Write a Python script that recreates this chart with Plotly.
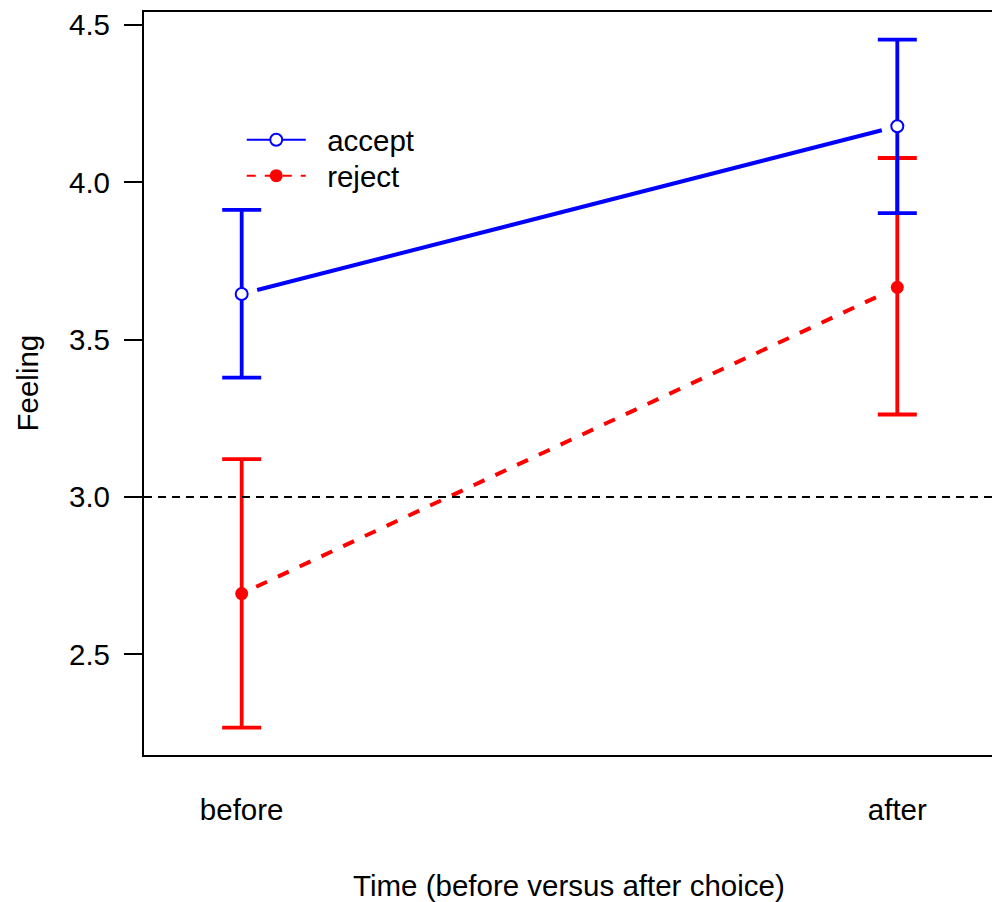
import math
import plotly.graph_objects as go

# ---- data ----
times = ["before", "after"]
time_pos = [1, 2]
accept_mean = [3.645, 4.178]
accept_low = [3.379, 3.902]
accept_high = [3.912, 4.453]
reject_mean = [2.693, 3.666]
reject_low = [2.267, 3.262]
reject_high = [3.120, 4.077]
reference_level = 3.0
y_ticks = [2.5, 3.0, 3.5, 4.0, 4.5]

# ---- layout geometry (page body has an 8px margin) ----
W, H = 992, 894
M = dict(l=136, r=6, t=0, b=147)
PW, PH = W - M["l"] - M["r"], H - M["t"] - M["b"]
XR = [0.851, 2.1475]
YR = [2.18, 4.541]
FONT = "Liberation Sans, Arial, Helvetica, sans-serif"
FS = 29.5
BLUE, RED = "#0000ff", "#ff0000"


def gapped(xs, ys, gap_px=16):
    """Shorten a line segment at both ends (like R type='b')."""
    sx = PW / (XR[1] - XR[0])
    sy = PH / (YR[1] - YR[0])
    dx, dy = xs[1] - xs[0], ys[1] - ys[0]
    L = math.hypot(dx * sx, dy * sy)
    t = gap_px / L
    return ([xs[0] + t * dx, xs[1] - t * dx], [ys[0] + t * dy, ys[1] - t * dy])


fig = go.Figure()

# error bars (red first, blue on top)
for mean, lo, hi, col in [(reject_mean, reject_low, reject_high, RED),
                          (accept_mean, accept_low, accept_high, BLUE)]:
    fig.add_trace(go.Scatter(
        x=time_pos, y=mean, mode="markers",
        marker=dict(size=1, color="rgba(0,0,0,0)"),
        error_y=dict(type="data", symmetric=False,
                     array=[h - m for h, m in zip(hi, mean)],
                     arrayminus=[m - l for m, l in zip(mean, lo)],
                     color=col, thickness=3.8, width=19.5),
        showlegend=False, hoverinfo="skip"))

# connecting lines with gaps
rx, ry = gapped(time_pos, reject_mean)
fig.add_trace(go.Scatter(x=rx, y=ry, mode="lines",
                         line=dict(color=RED, width=4, dash="dash"),
                         showlegend=False, hoverinfo="skip"))
ax, ay = gapped(time_pos, accept_mean)
fig.add_trace(go.Scatter(x=ax, y=ay, mode="lines",
                         line=dict(color=BLUE, width=4),
                         showlegend=False, hoverinfo="skip"))

# points
fig.add_trace(go.Scatter(x=time_pos, y=reject_mean, mode="markers",
                         marker=dict(size=13, color=RED, line=dict(width=0)),
                         showlegend=False))
fig.add_trace(go.Scatter(x=time_pos, y=accept_mean, mode="markers",
                         marker=dict(size=12, color="white",
                                     line=dict(width=2, color=BLUE)),
                         showlegend=False))

# legend entries (two legends for tighter spacing)
fig.add_trace(go.Scatter(x=[None], y=[None], mode="lines+markers",
                         name="\u00a0\u00a0accept", legend="legend",
                         line=dict(color=BLUE, width=2),
                         marker=dict(size=12, color="white",
                                     line=dict(width=2, color=BLUE))))
fig.add_trace(go.Scatter(x=[None], y=[None], mode="lines+markers",
                         name="\u00a0\u00a0reject", legend="legend2",
                         line=dict(color=RED, width=2, dash="dash"),
                         marker=dict(size=13, color=RED)))

# reference line
fig.add_shape(type="line", xref="paper", yref="y", x0=0, x1=1,
              y0=reference_level, y1=reference_level,
              line=dict(color="black", width=2, dash="8px,6px"))

fig.add_annotation(text="Feeling", xref="paper", yref="paper", x=0, y=0.5,
                   xanchor="center", yanchor="middle", xshift=-117,
                   textangle=-90, showarrow=False,
                   font=dict(family=FONT, size=FS, color="black"))
fig.add_annotation(text="Time (before versus after choice)", xref="paper",
                   yref="paper", x=0.5, y=0, xanchor="center",
                   yanchor="middle", yshift=-130, showarrow=False,
                   font=dict(family=FONT, size=FS, color="black"))

leg_common = dict(xanchor="left", yanchor="top", bgcolor="rgba(0,0,0,0)",
                  borderwidth=0, font=dict(family=FONT, size=FS),
                  itemwidth=59)

fig.update_layout(
    width=W, height=H, margin=M,
    paper_bgcolor="white", plot_bgcolor="white",
    font=dict(family=FONT, size=FS, color="black"),
    legend=dict(x=0.115, y=0.8626, **leg_common),
    legend2=dict(x=0.115, y=0.8143, **leg_common),
    xaxis=dict(range=XR, tickvals=time_pos, ticktext=times, ticks="",
               showgrid=False, zeroline=False, showline=True, mirror=True,
               linecolor="black", linewidth=2.2, ticklabelstandoff=27,
               fixedrange=True),
    yaxis=dict(range=YR, tickvals=y_ticks, tickformat=".1f", ticks="outside",
               ticklen=18, tickwidth=2, tickcolor="black",
               showgrid=False, zeroline=False, showline=True, mirror=True,
               linecolor="black", linewidth=2.2, ticklabelstandoff=8,
               ticklabeloverflow="allow", fixedrange=True),
)

fig.write_html("out.html")
